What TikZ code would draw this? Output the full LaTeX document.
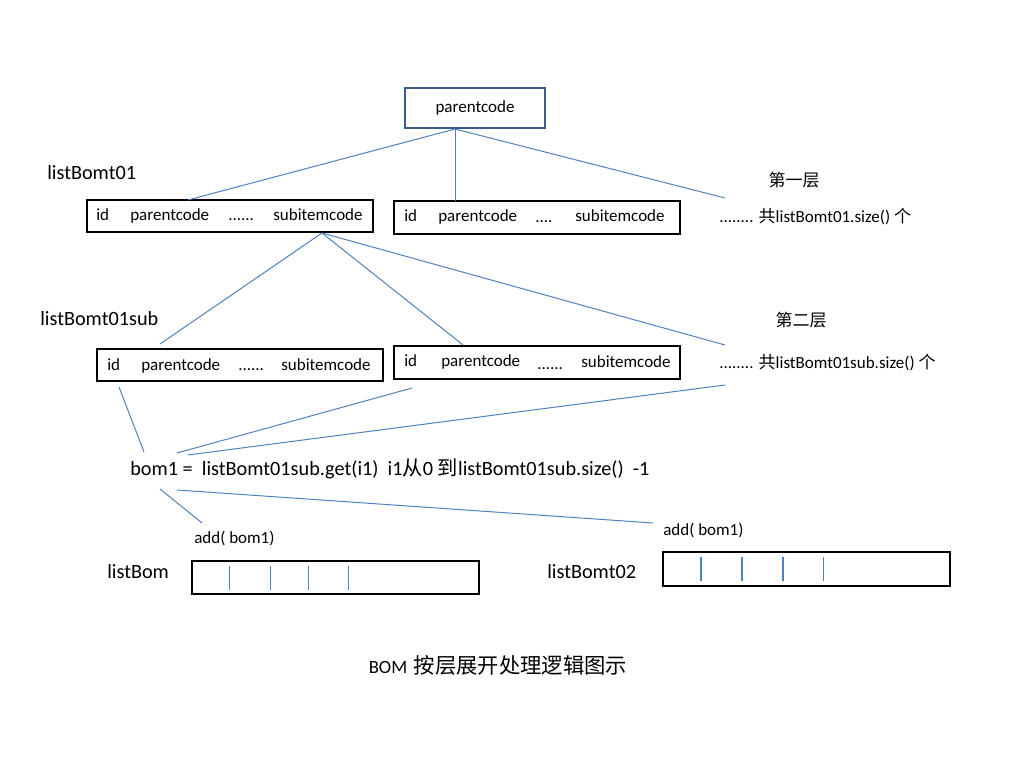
\documentclass[tikz,border=0pt]{standalone}
\usepackage{fontspec}
\setmainfont{Carlito}
\newfontfamily\cjk{Noto Sans CJK SC}
\def\zh#1{{\cjk #1}}
\definecolor{linkblue}{RGB}{79,129,189}
\definecolor{topblue}{RGB}{56,93,138}

\begin{document}
\begin{tikzpicture}[x=0.75pt, y=-0.75pt,
		link/.style={draw=linkblue, line width=0.75pt},
		rowbox/.style={draw=black, line width=1pt, minimum width=214.5pt, inner sep=0},
		field/.style={font=\fontsize{12.75}{15}\selectfont, inner sep=0, anchor=west, text height=9pt, text depth=2.5pt},
		biglabel/.style={font=\fontsize{15.2}{18}\selectfont, inner sep=0, anchor=west, text height=11pt, text depth=3pt},
		slot/.style={draw=linkblue, line width=0.75pt}]
			%%%%% START %%%%%
			\useasboundingbox (0,0) rectangle (1022,773);
			
			% top
			\node[draw=topblue, line width=0.9pt, minimum width=105pt, minimum height=30pt, font=\fontsize{12.75}{15}\selectfont] (top) at (475,108) {parentcode};
			\coordinate (top-s) at (455,129);
			
			% first level
			\node[biglabel] (lbl1) at (47,174) {listBomt01};
			\node[rowbox, minimum height=24pt] (row1) at (230,216) {};
			\node[field] (row1-id) at (96,216) {id};
			\node[field] (row1-pc) at (130,216) {parentcode};
			\node[field] (row1-dots) at (228,216) {......};
			\node[field] (row1-sc) at (273,216) {subitemcode};
			
			\node[rowbox, minimum height=24.75pt] (row2) at (537,217.5) {};
			\node[field] (row2-id) at (404,217) {id};
			\node[field] (row2-pc) at (438,217) {parentcode};
			\node[field] (row2-dots) at (535,218) {....};
			\node[field] (row2-sc) at (575,217) {subitemcode};
			
			\node[font=\cjk\fontsize{12.75}{15}\selectfont, inner sep=0] (lvl1) at (794,180) {第一层};
			\node[field] (more1) at (719,218) {........ \zh{共}listBomt01.size() \zh{个}};
			
			\coordinate (row1-n) at (188,200);
			\coordinate (row2-n) at (455,201);
			\coordinate (more1-n) at (725,198);
			\draw[link] (top-s) -- (row1-n);
			\draw[link] (top-s) -- (row2-n);
			\draw[link] (top-s) -- (more1-n);
			
			% second level
			\node[biglabel] (lbl2) at (40,320) {listBomt01sub};
			\node[rowbox, line width=1.5pt, minimum height=24pt] (row3) at (240,365) {};
			\node[field] (row3-id) at (107,366) {id};
			\node[field] (row3-pc) at (141,366) {parentcode};
			\node[field] (row3-dots) at (238,366) {......};
			\node[field] (row3-sc) at (281,366) {subitemcode};
			
			\node[rowbox, minimum height=24.75pt] (row4) at (537,362.5) {};
			\node[field] (row4-id) at (404,362) {id};
			\node[field] (row4-pc) at (441,362) {parentcode};
			\node[field] (row4-dots) at (537,365) {......};
			\node[field] (row4-sc) at (581,363) {subitemcode};
			
			\node[font=\cjk\fontsize{12.75}{15}\selectfont, inner sep=0] (lvl2) at (801,320) {第二层};
			\node[field] (more2) at (719,364) {........ \zh{共}listBomt01sub.size() \zh{个}};
			
			\coordinate (row1-s) at (322,233);
			\coordinate (row3-n) at (160,344);
			\coordinate (row4-n) at (463,345);
			\coordinate (more2-n) at (725,345);
			\draw[link] (row1-s) -- (row3-n);
			\draw[link] (row1-s) -- (row4-n);
			\draw[link] (row1-s) -- (more2-n);
			
			% bom1
			\node[biglabel] (bom) at (130,470) {bom1 =\ \ listBomt01sub.get(i1)\ \ i1\zh{从}0 \zh{到}listBomt01sub.size()\ \ -1};
			
			\coordinate (row3-s) at (119,387);
			\coordinate (row4-s) at (412,388);
			\coordinate (more2-s) at (725,385);
			\coordinate (bom-nw) at (144,452);
			\coordinate (bom-n) at (177,453);
			\coordinate (bom-ne) at (188,455);
			\draw[link] (row3-s) -- (bom-nw);
			\draw[link] (row4-s) -- (bom-n);
			\draw[link] (more2-s) -- (bom-ne);
			
			\coordinate (bom-sw) at (160,489);
			\coordinate (bom-se) at (177,490);
			\coordinate (add1-n) at (202,523);
			\coordinate (add2-n) at (653,523);
			\draw[link] (bom-sw) -- (add1-n);
			\draw[link] (bom-se) -- (add2-n);
			
			% lists
			\node[field] (add1) at (194,539) {add( bom1)};
			\node[field] (add2) at (663,531) {add( bom1)};
			
			\node[biglabel] (lbl3) at (107,573) {listBom};
			\node[draw=black, line width=1.5pt, minimum width=215.25pt, minimum height=24.75pt] (list1) at (335.5,577.5) {};
			\foreach \x in {229,270,308,348}
				\draw[slot] (\x,566) -- (\x,590);
			
			\node[biglabel] (lbl4) at (547,573) {listBomt02};
			\node[draw=black, line width=1.2pt, minimum width=215.25pt, minimum height=25.5pt] (list2) at (806.5,569) {};
			\foreach \x in {701,742,783}
				\draw[slot, line width=1.5pt] (\x,557) -- (\x,581);
			\draw[slot] (823,557) -- (823,581);
			
			% caption
			\node[inner sep=0] (caption) at (498,665) {\fontsize{14}{18}\selectfont BOM\hspace{5pt}\cjk\fontsize{16}{18}\selectfont 按层展开处理逻辑图示};
			
			%%%%% END %%%%%
\end{tikzpicture}
\end{document}
